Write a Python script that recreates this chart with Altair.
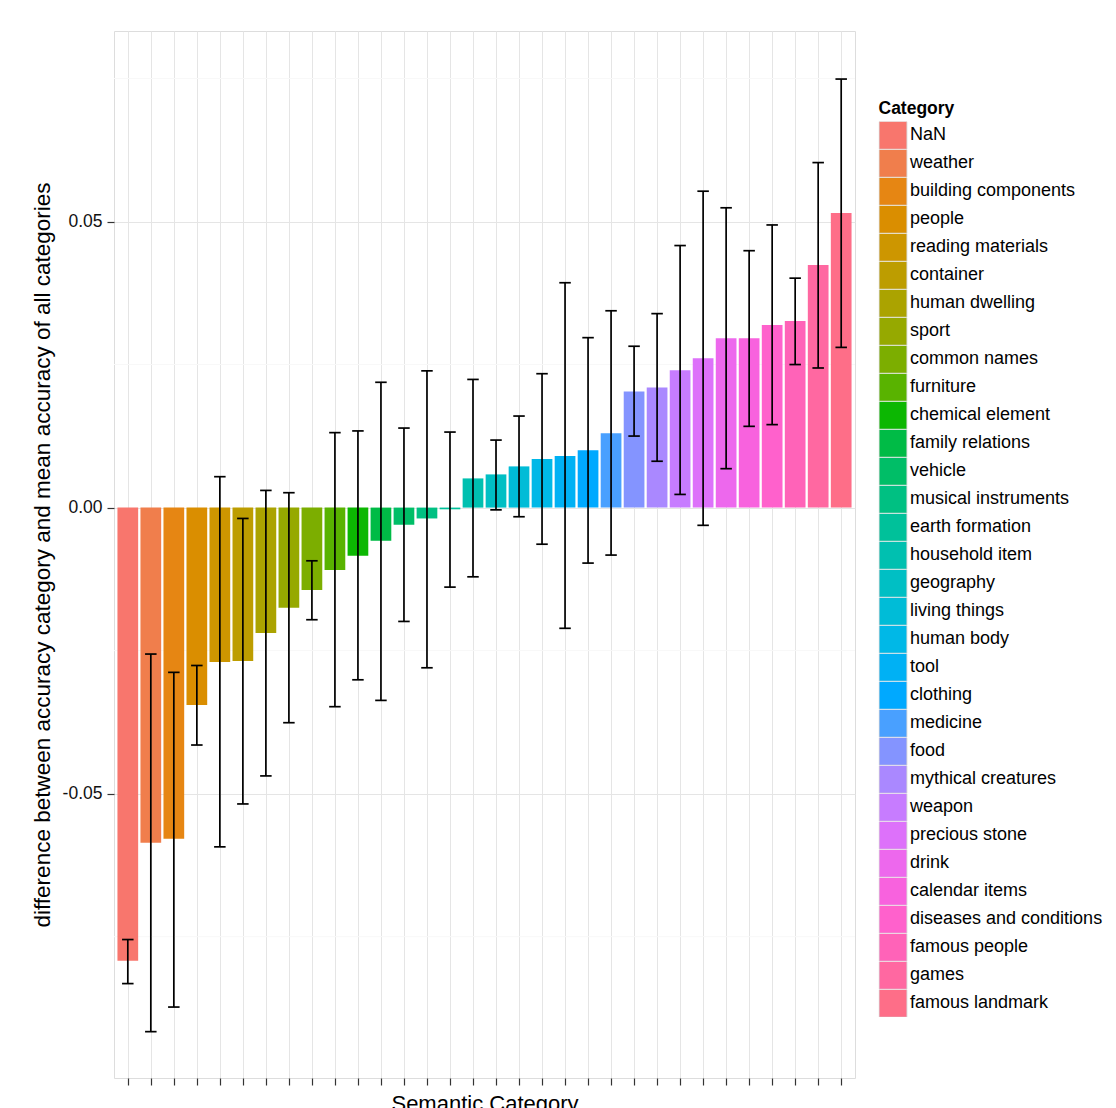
import math
import altair as alt
import pandas as pd

categories = [
    "NaN", "weather", "building components", "people", "reading materials",
    "container", "human dwelling", "sport", "common names", "furniture",
    "chemical element", "family relations", "vehicle", "musical instruments",
    "earth formation", "household item", "geography", "living things",
    "human body", "tool", "clothing", "medicine", "food", "mythical creatures",
    "weapon", "precious stone", "drink", "calendar items",
    "diseases and conditions", "famous people", "games", "famous landmark",
]
values = [
    -0.0792, -0.0586, -0.0579, -0.0345, -0.0270, -0.0268, -0.0219, -0.0175,
    -0.0144, -0.0109, -0.0084, -0.0058, -0.0030, -0.0019, -0.0003, 0.0051,
    0.0058, 0.0072, 0.0085, 0.0090, 0.0100, 0.0130, 0.0203, 0.0210,
    0.0240, 0.0261, 0.0296, 0.0296, 0.0319, 0.0326, 0.0424, 0.0515,
]
err_low = [
    -0.0832, -0.0916, -0.0873, -0.0415, -0.0593, -0.0518, -0.0469, -0.0376,
    -0.0196, -0.0348, -0.0301, -0.0337, -0.0199, -0.0280, -0.0139, -0.0121,
    -0.0004, -0.0016, -0.0064, -0.0211, -0.0097, -0.0083, 0.0125, 0.0081,
    0.0023, -0.0031, 0.0068, 0.0142, 0.0145, 0.0250, 0.0244, 0.0280,
]
err_high = [
    -0.0755, -0.0256, -0.0288, -0.0276, 0.0054, -0.0019, 0.0030, 0.0026,
    -0.0093, 0.0131, 0.0134, 0.0219, 0.0139, 0.0239, 0.0132, 0.0224,
    0.0118, 0.0160, 0.0234, 0.0393, 0.0297, 0.0344, 0.0282, 0.0339,
    0.0458, 0.0553, 0.0524, 0.0449, 0.0494, 0.0401, 0.0603, 0.0749,
]
y_ticks = [-0.05, 0.0, 0.05]
minor_breaks = [-0.075, -0.025, 0.025, 0.075]


def hcl_hex(h, c=100.0, l=65.0):
    # ggplot2 default hue palette colour (polar LUV -> sRGB)
    xn, yn, zn = 95.047, 100.0, 108.883
    un = 4 * xn / (xn + 15 * yn + 3 * zn)
    vn = 9 * yn / (xn + 15 * yn + 3 * zn)
    u = c * math.cos(math.radians(h))
    v = c * math.sin(math.radians(h))
    Y = yn * ((l + 16) / 116) ** 3 if l > 8 else yn * l / 903.3
    up = u / (13 * l) + un
    vp = v / (13 * l) + vn
    X = Y * 9 * up / (4 * vp)
    Z = Y * (12 - 3 * up - 20 * vp) / (4 * vp)
    X, Y, Z = X / 100, Y / 100, Z / 100
    r = 3.240479 * X - 1.537150 * Y - 0.498535 * Z
    g = -0.969256 * X + 1.875992 * Y + 0.041556 * Z
    b = 0.055648 * X - 0.204043 * Y + 1.057311 * Z

    def gam(t):
        t = 12.92 * t if t <= 0.0031308 else 1.055 * t ** (1 / 2.4) - 0.055
        return max(0, min(255, int(round(t * 255))))

    return "#{:02X}{:02X}{:02X}".format(gam(r), gam(g), gam(b))


n = len(categories)
palette = [hcl_hex(15 + i * 360 / n) for i in range(n)]

df = pd.DataFrame({
    "category": categories,
    "pos": list(range(1, n + 1)),
    "value": values,
    "lo": err_low,
    "hi": err_high,
})
minor_df = pd.DataFrame({"y": minor_breaks})

FONT = "Liberation Sans"
W, H = 741, 1047

x_scale = alt.Scale(domain=[0.4, n + 0.6], nice=False, zero=False)
y_scale = alt.Scale(domain=[-0.0997, 0.0833], nice=False, zero=False)

x_axis = alt.Axis(
    values=list(range(1, n + 1)), labels=False, grid=True, gridColor="#E5E5E5",
    gridWidth=1, ticks=True, tickSize=7, tickColor="#333333", tickWidth=1.2,
    domain=False, title="Semantic Category", titleFont=FONT, titleFontSize=22,
    titleFontWeight="normal", titleColor="#000000", titleX=W / 2, titleY=32,
    titleBaseline="alphabetic", titleAlign="center",
)
y_axis = alt.Axis(
    values=y_ticks, grid=True, gridColor="#E5E5E5", gridWidth=1,
    labelExpr="datum.value < 0 ? '-' + format(-datum.value, '.2f') : format(datum.value, '.2f')",
    labelFont=FONT, labelFontSize=17.5, labelColor="#111111", labelPadding=5,
    ticks=True, tickSize=7, tickColor="#333333", tickWidth=1.2, domain=False,
    title="difference between accuracy category and mean accuracy of all categories",
    titleFont=FONT, titleFontSize=22.5, titleFontWeight="normal", titleColor="#000000",
    titleX=-65, titleY=H / 2, titleAngle=270, titleBaseline="alphabetic",
    titleAlign="center",
)

minor = alt.Chart(minor_df).mark_rule(color="#F8F8F8", strokeWidth=1).encode(
    y=alt.Y("y:Q", scale=y_scale, axis=y_axis),
)

bars = alt.Chart(df).transform_calculate(
    xl="datum.pos - 0.45", xr="datum.pos + 0.45"
).mark_bar(strokeWidth=0).encode(
    x=alt.X("xl:Q", scale=x_scale, axis=x_axis),
    x2="xr:Q",
    y=alt.Y("value:Q", scale=y_scale, axis=y_axis),
    y2=alt.datum(0),
    color=alt.Color(
        "category:N",
        scale=alt.Scale(domain=categories, range=palette),
        legend=alt.Legend(
            title="Category", orient="none", legendX=764.5, legendY=69,
            padding=0, titleFont=FONT, titleFontSize=17.5, titleFontWeight="bold",
            titleColor="#000000", titlePadding=4, titleBaseline="top",
            labelFont=FONT, labelFontSize=18, labelColor="#000000",
            labelOffset=2.5, labelLimit=400, symbolType="square", symbolSize=772,
            symbolStrokeColor="#D0D0D0", symbolStrokeWidth=0.8,
            symbolOpacity=1, rowPadding=0, clipHeight=27.57, symbolOffset=0,
            symbolLimit=100,
        ),
    ),
)

err_line = alt.Chart(df).mark_rule(color="#000000", strokeWidth=1.7).encode(
    x=alt.X("pos:Q", scale=x_scale, axis=x_axis),
    y=alt.Y("lo:Q", scale=y_scale, axis=y_axis),
    y2="hi:Q",
)

err_caps = alt.Chart(df).transform_fold(
    ["lo", "hi"], as_=["end", "yv"]
).transform_calculate(
    cl="datum.pos - 0.25", cr="datum.pos + 0.25"
).mark_rule(color="#000000", strokeWidth=1.7).encode(
    x=alt.X("cl:Q", scale=x_scale, axis=x_axis),
    x2="cr:Q",
    y=alt.Y("yv:Q", scale=y_scale, axis=y_axis),
)

chart = alt.layer(minor, bars, err_line, err_caps).properties(
    width=W, height=H,
    autosize=alt.AutoSizeParams(type="none"),
    padding={"left": 106, "top": 23, "right": 250, "bottom": 30},
    background="#FFFFFF",
).configure_view(
    stroke="#7F7F7F", strokeWidth=1.2,
).configure(font=FONT)

chart.save("out.html", embed_options={"renderer": "svg", "actions": False})
